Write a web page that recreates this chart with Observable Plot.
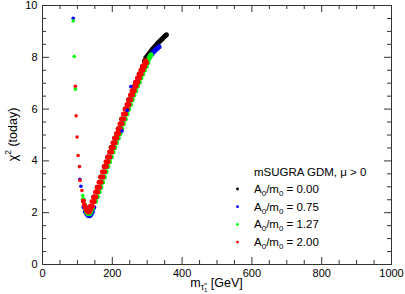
<!DOCTYPE html>
<html><head><meta charset="utf-8">
<script src="https://cdn.jsdelivr.net/npm/d3@7"></script>
<script src="https://cdn.jsdelivr.net/npm/@observablehq/plot@0.6"></script>
<style>body{margin:0;background:#fff}svg{display:block}</style>
</head><body><div id="chart"></div>
<script>
// Series labels (A0/m0) and colours
const seriesLabels = ["0.00", "0.75", "1.27", "2.00"];
const seriesColors = ["#000000", "#0000ff", "#00ff00", "#ff0000"];

// Tick values
const xMajor = [0, 200, 400, 600, 800, 1000];
const xMinor = [50, 100, 150, 250, 300, 350, 450, 500, 550, 650, 700, 750, 850, 900, 950];
const yMajor = [0, 2, 4, 6, 8, 10];
const yMinor = [0.5, 1, 1.5, 2.5, 3, 3.5, 4.5, 5, 5.5, 6.5, 7, 7.5, 8.5, 9, 9.5];

// ---- main band points ----
// A0/m0 = 0.00 (black)
const blackX = [122, 127, 132, 137, 142, 147, 157, 167, 177, 187, 197, 207, 217, 227, 237, 247, 257, 267, 277, 287, 292,
  296, 300, 304, 308, 312, 316, 320, 324, 328, 332, 336, 340, 344, 348, 352, 355];
const blackY = [2.25, 2.10, 2.04, 2.08, 2.22, 2.61, 2.98, 3.38, 3.78, 4.15, 4.52, 4.88, 5.24, 5.62, 6.00, 6.36, 6.71, 7.04, 7.36, 7.65, 7.86,
  7.98, 8.05, 8.12, 8.19, 8.26, 8.33, 8.39, 8.45, 8.51, 8.57, 8.62, 8.68, 8.73, 8.78, 8.83, 8.87];

// A0/m0 = 0.75 (blue)
const blueX = [119, 123, 127, 131, 135, 139, 143, 147,
  156, 166, 176, 186, 196, 206, 216, 226, 236, 246, 256, 266, 276, 286, 296,
  302, 306, 310, 314, 318, 322, 326, 330, 334];
const blueY = [2.22, 2.05, 1.95, 1.89, 1.88, 1.93, 2.04, 2.20,
  2.61, 2.98, 3.38, 3.78, 4.15, 4.52, 4.88, 5.24, 5.62, 6.00, 6.36, 6.71, 7.04, 7.36, 7.65,
  7.90, 7.99, 8.07, 8.14, 8.20, 8.26, 8.31, 8.36, 8.41];

// A0/m0 = 1.27 (green)
const greenX = [117, 120, 123, 127, 131, 135, 139, 143,
  152, 157, 162, 167, 172, 177, 182, 187, 192, 197, 202, 207, 212, 217, 222, 227, 232, 237, 242, 247, 252, 257, 262, 267, 272, 277, 282, 287, 292, 297, 302,
  305, 308, 311];
const greenY = [2.50, 2.30, 2.15, 2.02, 1.96, 1.96, 2.05, 2.18,
  2.43, 2.61, 2.80, 2.98, 3.18, 3.38, 3.58, 3.78, 3.97, 4.15, 4.34, 4.52, 4.70, 4.88, 5.06, 5.24, 5.43, 5.62, 5.81, 6.00, 6.18, 6.36, 6.54, 6.71, 6.88, 7.04, 7.20, 7.36, 7.51, 7.65, 7.79,
  7.95, 8.03, 8.10];

// A0/m0 = 2.00 (red)
const redX = [117, 120, 123, 126, 129, 132, 135, 138,
  137, 142, 147, 152, 157, 162, 167, 172, 177, 182, 187, 192, 197, 202, 207, 212, 217, 222, 227, 232, 237, 242, 247, 252, 257, 262, 267, 272, 277, 282, 287, 292,
  143, 148, 153, 158, 163, 168, 173, 178, 183, 188, 193, 198, 203, 208, 213, 218, 223, 228, 233, 238, 243, 248, 253, 258, 263, 268, 273, 278, 283, 288, 293, 298,
  295];
const redY = [2.45, 2.30, 2.18, 2.10, 2.05, 2.03, 2.05, 2.14,
  2.25, 2.43, 2.61, 2.80, 2.98, 3.18, 3.38, 3.58, 3.78, 3.97, 4.15, 4.34, 4.52, 4.70, 4.88, 5.06, 5.24, 5.43, 5.62, 5.81, 6.00, 6.18, 6.36, 6.54, 6.71, 6.88, 7.04, 7.20, 7.36, 7.51, 7.65, 7.79,
  2.25, 2.43, 2.61, 2.80, 2.98, 3.18, 3.38, 3.58, 3.78, 3.97, 4.15, 4.34, 4.52, 4.70, 4.88, 5.06, 5.24, 5.43, 5.62, 5.81, 6.00, 6.18, 6.36, 6.54, 6.71, 6.88, 7.04, 7.20, 7.36, 7.51, 7.65, 7.79,
  7.87];

// ---- scattered points away from the band ----
const blueOutX = [88, 107, 110, 228, 243, 253];
const blueOutY = [9.51, 3.29, 3.02, 5.15, 5.95, 6.87];
const greenOutX = [88, 91, 94.5, 115];
const greenOutY = [9.40, 8.03, 6.77, 2.66];
const redOutX = [94, 96.5, 99, 102, 106, 107.5, 113];
const redOutY = [6.88, 5.74, 4.92, 4.21, 3.78, 3.25, 2.86];

const toPoints = (xsList, ysList) => xsList.flatMap((xs, k) => xs == null ? [] : xs.map((x, i) => ({x, y: ysList[k][i], s: seriesLabels[k]})));
const bandPoints = toPoints([blackX, blueX, greenX, redX], [blackY, blueY, greenY, redY]);
const outPoints = toPoints([null, blueOutX, greenOutX, redOutX], [null, blueOutY, greenOutY, redOutY]);

const W = 405, H = 294, mL = 42, mR = 14, mT = 5, mB = 30;
const innerW = W - mL - mR, innerH = H - mT - mB;
const major = 7, minor = 4, tickColor = "#333";
const font = "'Liberation Sans', Arial, Helvetica, sans-serif";

const chart = Plot.plot({
  width: W, height: H,
  marginLeft: mL, marginRight: mR, marginTop: mT, marginBottom: mB,
  x: {domain: [0, 1000]},
  y: {domain: [0, 10]},
  color: {domain: seriesLabels, range: seriesColors},
  style: {fontFamily: font, fontSize: "11px", background: "#fff", color: "#000"},
  marks: [
    Plot.dot(bandPoints, {x: "x", y: "y", fill: "s", r: 2.5}),
    Plot.dot(outPoints, {x: "x", y: "y", fill: "s", r: 1.8}),
    Plot.frame({stroke: tickColor}),
    // inward ticks on all four sides
    Plot.ruleX(xMajor, {x: d => d, insetTop: innerH - major, stroke: tickColor}),
    Plot.ruleX(xMinor, {x: d => d, insetTop: innerH - minor, stroke: tickColor}),
    Plot.ruleX(xMajor, {x: d => d, insetBottom: innerH - major, stroke: tickColor}),
    Plot.ruleX(xMinor, {x: d => d, insetBottom: innerH - minor, stroke: tickColor}),
    Plot.ruleY(yMajor, {y: d => d, insetRight: innerW - major, stroke: tickColor}),
    Plot.ruleY(yMinor, {y: d => d, insetRight: innerW - minor, stroke: tickColor}),
    Plot.ruleY(yMajor, {y: d => d, insetLeft: innerW - major, stroke: tickColor}),
    Plot.ruleY(yMinor, {y: d => d, insetLeft: innerW - minor, stroke: tickColor}),
    Plot.axisX({ticks: xMajor, anchor: "bottom", tickSize: 0, tickPadding: 5, tickFormat: d3.format("d"), label: null, fontSize: 11}),
    Plot.axisY({ticks: yMajor, anchor: "left", tickSize: 0, tickPadding: 5, tickFormat: d3.format("d"), label: null, fontSize: 11})
  ]
});

const svg = d3.select(chart);
const sx = chart.scale("x"), sy = chart.scale("y");
const cx = (sx.range[0] + sx.range[1]) / 2;
const cy = (sy.range[0] + sy.range[1]) / 2;

// x axis label: m_{tau~_1} [GeV]
const xl = svg.append("text").attr("x", cx).attr("y", 287).attr("text-anchor", "middle")
  .attr("font-family", font).attr("font-size", 12.5).attr("fill", "#000");
xl.append("tspan").text("m");
xl.append("tspan").attr("dy", 3).attr("font-size", 8.5).text("τ\u0303");
xl.append("tspan").attr("dy", 2).attr("font-size", 6).text("1");
xl.append("tspan").attr("dy", -5).attr("font-size", 12.5).text(" [GeV]");

// y axis label: chi^2 (today)
const yl = svg.append("text").attr("transform", `translate(17,${cy}) rotate(-90)`).attr("text-anchor", "middle")
  .attr("font-family", font).attr("font-size", 12.5).attr("fill", "#000");
yl.append("tspan").text("χ");
yl.append("tspan").attr("dy", -6).attr("font-size", 8.5).text("2");
yl.append("tspan").attr("dy", 6).text(" (today)");

// legend
const lg = svg.append("g").attr("font-family", font).attr("font-size", 11.5).attr("fill", "#000").attr("text-anchor", "start");
lg.append("text").attr("x", 254).attr("y", 176).text("mSUGRA GDM, μ > 0");
seriesLabels.forEach((lab, i) => {
  const by = 193 + i * 17.7;
  lg.append("circle").attr("cx", 237.5).attr("cy", by - 4).attr("r", 1.4).attr("fill", seriesColors[i]);
  const t = lg.append("text").attr("x", 254).attr("y", by);
  t.append("tspan").text("A");
  t.append("tspan").attr("dy", 3).attr("font-size", 8).text("0");
  t.append("tspan").attr("dy", -3).text("/m");
  t.append("tspan").attr("dy", 3).attr("font-size", 8).text("0");
  t.append("tspan").attr("dy", -3).text(" = " + lab);
});

document.getElementById("chart").append(chart);
</script>
</body></html>
